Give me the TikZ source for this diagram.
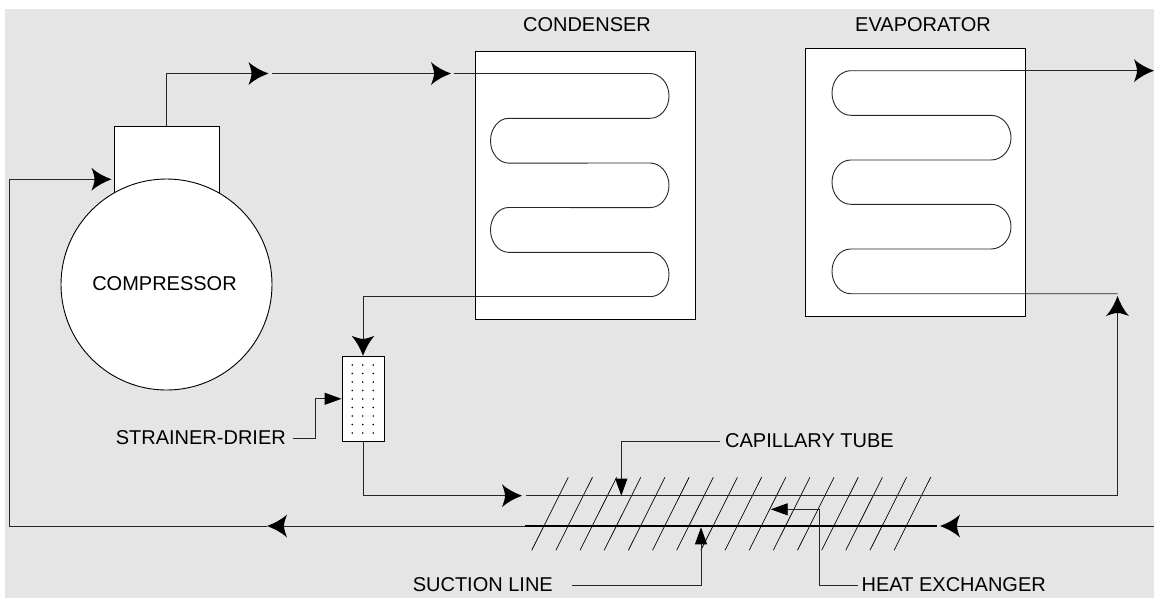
\documentclass[tikz,border=0pt]{standalone}
\usepackage{fontspec}
\setmainfont{Liberation Sans}
\usetikzlibrary{arrows.meta}
\definecolor{panelgray}{HTML}{E5E5E5}
\pgfdeclarearrow{
    name=FlowTip,
    setup code={\pgfarrowssettipend{0pt}\pgfarrowssetlineend{-10pt}\pgfarrowssetvisualbackend{-17pt}\pgfarrowssetbackend{-20pt}},
    drawing code={
        \pgfpathmoveto{\pgfpointorigin}
        \pgfpathcurveto{\pgfpoint{-7pt}{2.6pt}}{\pgfpoint{-14pt}{6pt}}{\pgfpoint{-20pt}{11.5pt}}
        \pgfpathcurveto{\pgfpoint{-18.5pt}{7pt}}{\pgfpoint{-17pt}{3.5pt}}{\pgfpoint{-17pt}{0pt}}
        \pgfpathcurveto{\pgfpoint{-17pt}{-3.5pt}}{\pgfpoint{-18.5pt}{-7pt}}{\pgfpoint{-20pt}{-11.5pt}}
        \pgfpathcurveto{\pgfpoint{-14pt}{-6pt}}{\pgfpoint{-7pt}{-2.6pt}}{\pgfpointorigin}
        \pgfpathclose
        \pgfusepathqfill
    },
    defaults={}
}

\begin{document}
\begin{tikzpicture}[
            x=1pt, y=-1pt,
            unit/.style={rectangle, draw=black, fill=white, inner sep=0pt, line width=0.9pt},
            tag/.style={inner sep=0pt, font=\fontsize{20}{24}\selectfont},
            pipe/.style={line width=0.9pt, black!85},
            flow/.style={pipe, -{FlowTip[black]}},
            leader/.style={line width=0.9pt, black!85, -{Triangle[length=17pt, width=12pt, black]}},
            hatch/.style={line width=0.7pt, black}
        ]
        \useasboundingbox (0,0) rectangle (1154,598);
        \fill[white] (0,0) rectangle (1154,598);
        \fill[panelgray] (5,9) rectangle (1154,598);

        \node[unit, minimum width=105pt, minimum height=70pt] (head) at (166.5,161.5) {};
        \node[unit, circle, minimum size=211pt] (comp) at (166.5,284.5) {};
        \node[unit, minimum width=220pt, minimum height=268pt] (cond) at (585.5,185.3) {};
        \node[unit, minimum width=220pt, minimum height=268pt] (evap) at (915.5,182.2) {};
        \node[unit, minimum width=42pt, minimum height=85pt] (drier) at (363,398.8) {};

        \node[tag] (complabel) at (164.5,284) {COMPRESSOR};
        \node[tag] (condlabel) at (587,24.5) {CONDENSER};
        \node[tag] (evaplabel) at (923,24.5) {EVAPORATOR};
        \node[tag, anchor=east] (drierlabel) at (286,438) {STRAINER-DRIER};
        \node[tag, anchor=west] (caplabel) at (725,441) {CAPILLARY TUBE};
        \node[tag, anchor=east] (suctlabel) at (553,585) {SUCTION LINE};
        \node[tag, anchor=west] (hxlabel) at (861.5,585) {HEAT EXCHANGER};

        \foreach \px in {352.3,362.8,373.3}
            \foreach \py in {365,373.5,382,390.5,399,407.5,416,424.5,433}
                \fill (\px,\py) circle (0.9);

        \foreach \k in {0,...,15}
            \draw[hatch] (531.7+24.16*\k,550.3) -- (568.3+24.16*\k,477.3);

        \coordinate (dis1) at (268.5,73.5);
        \coordinate (dis2) at (272,73.5);
        \coordinate (dis3) at (451,73.5);
        \coordinate (dis4) at (454,73.5);
        \coordinate (condout) at (650,296.7);
        \coordinate (evapin) at (850.7,293.7);
        \coordinate (evapout) at (1154,70.7);
        \coordinate (liq1) at (522,495.7);
        \coordinate (liq2) at (526,495.7);
        \coordinate (liq3) at (1117.5,495.7);
        \coordinate (liq4) at (1117.5,296);
        \coordinate (suc1) at (1154,526);
        \coordinate (suc2) at (940,526);
        \coordinate (suc3) at (936.7,526);
        \coordinate (suc4) at (525,526);
        \coordinate (suc6) at (267,526);
        \coordinate (suc7) at (9.5,179.3);
        \coordinate (suc8) at (111.5,179.3);

        \draw[flow] (head.north) |- (dis1);
        \draw[flow] (dis2) -- (dis3);
        \draw[pipe] (dis4) -- (650,73.5)
            arc[start angle=-90, end angle=90, x radius=19, y radius=22.4] -- (508.7,118.3)
            arc[start angle=-90, end angle=-270, x radius=18.2, y radius=22.4] -- (650,163)
            arc[start angle=-90, end angle=90, x radius=19, y radius=22.3] -- (508.7,207.5)
            arc[start angle=-90, end angle=-270, x radius=18.2, y radius=22.4] -- (650,252.3)
            arc[start angle=-90, end angle=90, x radius=19, y radius=22.2] -- (condout);
        \draw[flow] (condout) -| (drier.north);
        \draw[flow] (drier.south) |- (liq1);
        \draw[flow] (liq2) -- (liq3) -- (liq4);
        \draw[pipe] (1117.5,293.7) -- (evapin)
            arc[start angle=90, end angle=270, x radius=18.7, y radius=22.35] -- (991,249)
            arc[start angle=90, end angle=-90, x radius=20, y radius=22.35] -- (850.7,204.3)
            arc[start angle=90, end angle=270, x radius=18.7, y radius=22.15] -- (991,160)
            arc[start angle=90, end angle=-90, x radius=20, y radius=22.35] -- (850.7,115.3)
            arc[start angle=90, end angle=270, x radius=18.7, y radius=22.3] -- (1000,70.7);
        \draw[flow] (1000,70.7) -- (evapout);
        \draw[flow] (suc1) -- (suc2);
        \draw[line width=2.6pt, black] (suc3) -- (suc4);
        \draw[flow] (suc4) -- (suc6);
        \draw[pipe] (suc6) -| (suc7);
        \draw[flow] (suc7) -- (suc8);

        \draw[leader] (drierlabel.east) ++(7,0) -- ++(22,0) |- (drier.west);
        \draw[leader] (caplabel.west) ++(-5,0) -| (621.3,495.7);
        \draw[leader] (suctlabel.east) ++(19,0) -| (701,527.3);
        \draw[leader] (hxlabel.west) ++(-4,0) -| (819.7,509.3) -- (770.7,509.3);
    \end{tikzpicture}
\end{document}
